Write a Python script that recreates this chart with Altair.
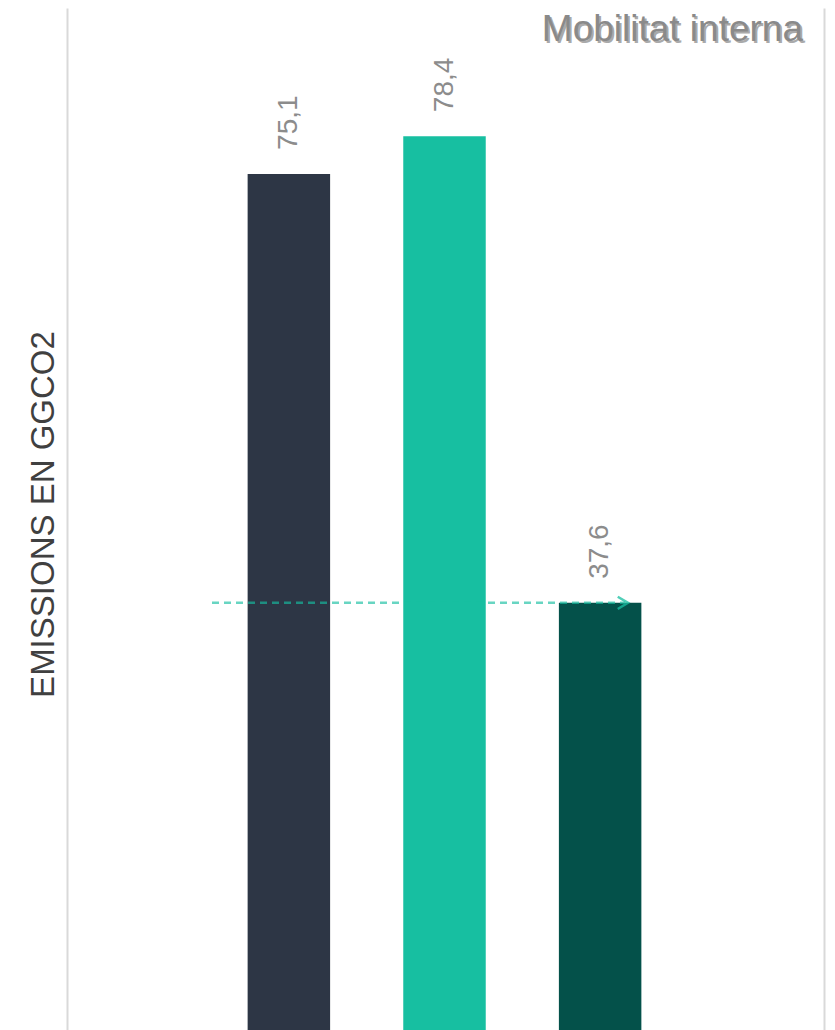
import altair as alt
import pandas as pd

categories = ["A", "B", "C"]
values = [75.1, 78.4, 37.6]
labels = ["75,1", "78,4", "37,6"]
bar_colors = ["#2d3645", "#17bfa1", "#04514a"]
title_text = "Mobilitat interna"
y_title = "EMISSIONS EN GGCO2"
arrow_value = values[2]

W, H = 757, 1025

df = pd.DataFrame({"cat": categories, "value": values, "label": labels})
arrow_df = pd.DataFrame({"value": [arrow_value]})
title_df = pd.DataFrame({"t": [title_text]})

xs = alt.Scale(domain=categories, range=[25, 730], paddingInner=0.47, paddingOuter=1)
ys = alt.Scale(domain=[0, 89.6], nice=False, zero=True)

bars = alt.Chart(df).mark_bar().encode(
    x=alt.X("cat:N", scale=xs, axis=None),
    y=alt.Y("value:Q", scale=ys, axis=alt.Axis(
        orient="left", domain=True, domainColor="#d9d9d9", domainWidth=2,
        ticks=False, labels=False, grid=False, title=y_title,
        titleFontSize=33, titleFont="Liberation Sans", titleFontWeight="normal",
        titleColor="#404040", titlePadding=7, titleY=506)),
    color=alt.Color("cat:N", scale=alt.Scale(domain=categories, range=bar_colors), legend=None),
)

text = alt.Chart(df).mark_text(
    angle=270, align="left", baseline="middle", dx=24,
    font="Liberation Sans", fontSize=28, color="#8c8c8c",
).encode(
    x=alt.X("cat:N", scale=xs, axis=None),
    y=alt.Y("value:Q", scale=ys, axis=alt.Axis(
        orient="right", domain=True, domainColor="#d9d9d9", domainWidth=2,
        ticks=False, labels=False, grid=False, title="")),
    text="label:N",
)

rule = alt.Chart(arrow_df).mark_rule(
    color="#17bfa1", strokeWidth=2.5, strokeDash=[7, 5], opacity=0.65,
).encode(
    y=alt.Y("value:Q", scale=ys, axis=None),
    x=alt.value(145),
    x2=alt.value(558),
)

head = alt.Chart(arrow_df).mark_point(
    shape="M-1,-0.6L0,0L-1,0.6", filled=False, color="#17bfa1",
    strokeWidth=2.5, size=420, opacity=0.75,
).encode(
    y=alt.Y("value:Q", scale=ys, axis=None),
    x=alt.value(561),
)

shadow = alt.Chart(title_df).mark_text(
    align="right", baseline="alphabetic", font="Liberation Sans", fontSize=37,
    color="#444444", opacity=0.45, dx=2, dy=2,
).encode(x=alt.value(736), y=alt.value(33), text="t:N")

title = alt.Chart(title_df).mark_text(
    align="right", baseline="alphabetic", font="Liberation Sans", fontSize=37,
    color="#8a8a8a",
).encode(x=alt.value(736), y=alt.value(33), text="t:N")

chart = alt.layer(bars, text, rule, head, shadow, title).resolve_axis(
    y="independent"
).properties(
    width=W, height=H, autosize="none",
    padding={"left": 59, "top": 0, "right": 3, "bottom": 0},
).configure_view(stroke=None)

chart.save("out.html", embed_options={"renderer": "svg", "actions": False})
